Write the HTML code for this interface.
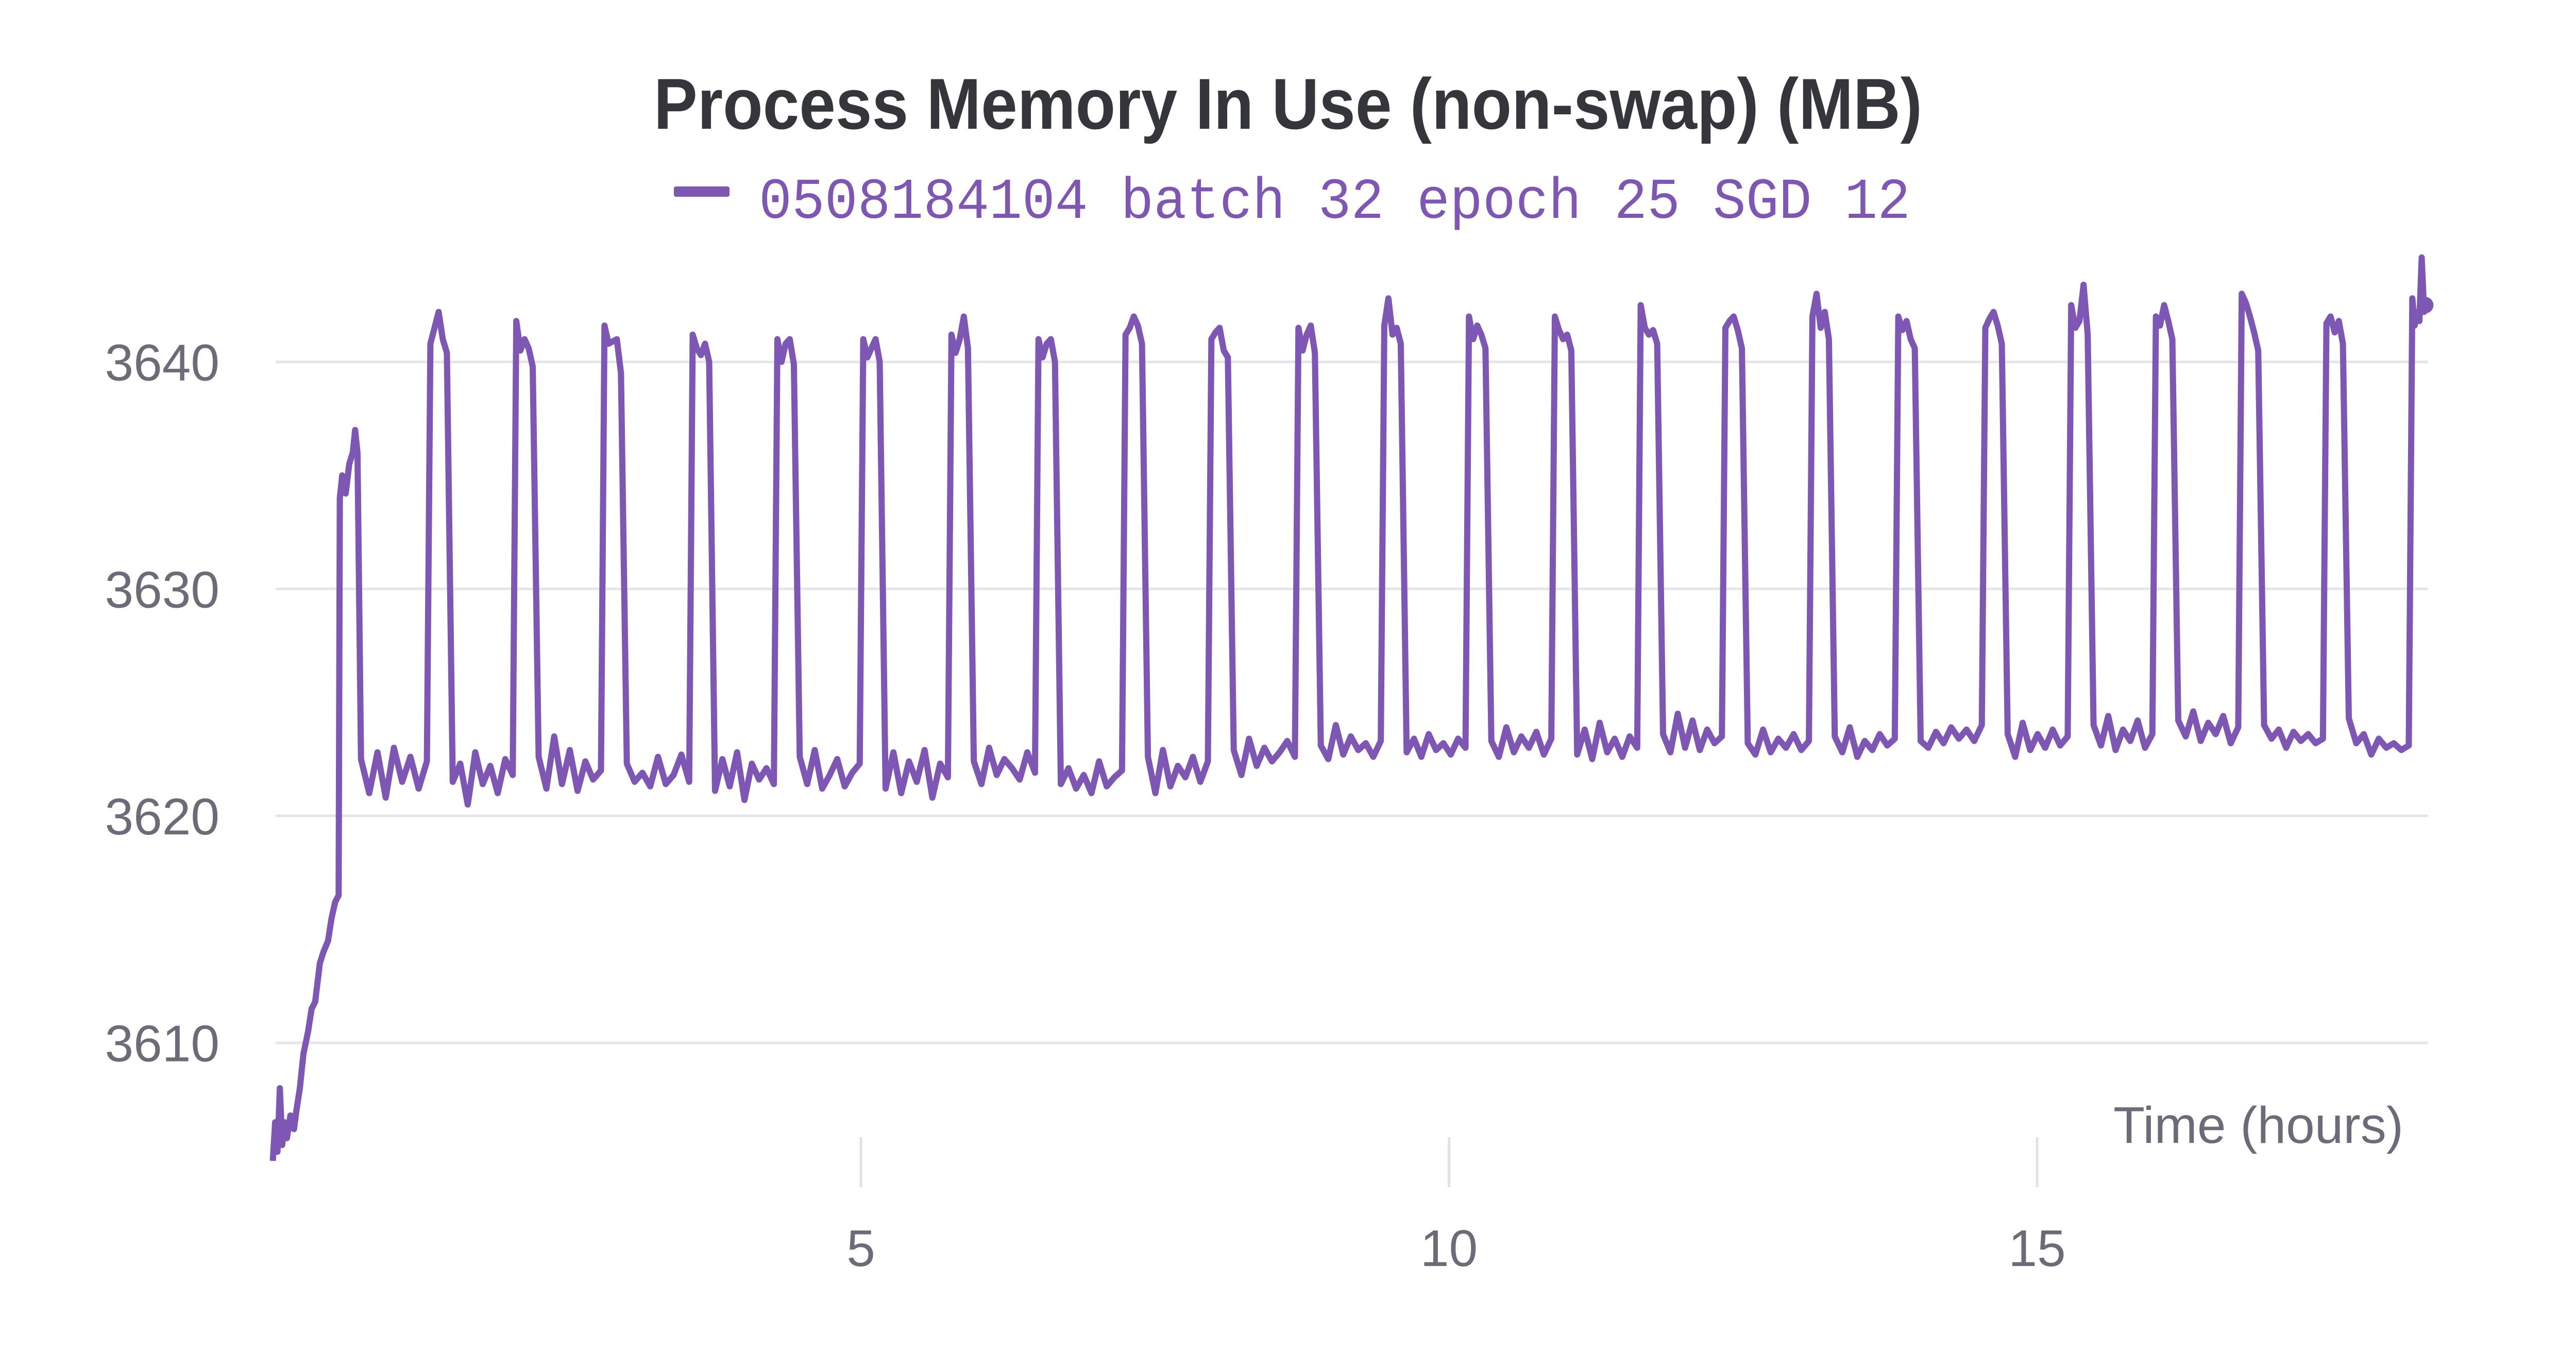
<!DOCTYPE html>
<html><head><meta charset="utf-8"><style>
html,body{margin:0;padding:0;background:#fff;}
svg{display:block;}
</style></head><body>
<svg id="chart" width="5056" height="2656" viewBox="0 0 5056 2656" xmlns="http://www.w3.org/2000/svg">
<text x="2500" y="250" text-anchor="middle" font-family="Liberation Sans, sans-serif" font-weight="bold" font-size="140" fill="#34363b" textLength="2462" lengthAdjust="spacingAndGlyphs">Process Memory In Use (non-swap) (MB)</text>
<g>
<rect x="1308" y="362" width="108" height="20" rx="4" fill="#7e57b5"/>
<text x="1473" y="423" font-family="Liberation Mono, monospace" font-size="112" fill="#7e57b5" textLength="2235" lengthAdjust="spacingAndGlyphs">0508184104 batch 32 epoch 25 SGD 12</text>
</g>
<g id="grid"></g><g id="yaxis"></g><g id="xaxis"></g><g id="series"></g>
<text x="4665" y="2219" text-anchor="end" font-family="Liberation Sans, sans-serif" font-size="100" fill="#6c6c78">Time (hours)</text>
</svg>
<script>
const yTicks=[3610,3620,3630,3640];
const xTicks=[5,10,15];
const initT=[0,0.02,0.04,0.06,0.08,0.1,0.12,0.15,0.18,0.2,0.23,0.26,0.3,0.33,0.36,0.4,0.43,0.47,0.5,0.53,0.56,0.57,0.59,0.62,0.65,0.68,0.7,0.72];
const initV=[3604.8,3606.5,3605.2,3608,3605.5,3606.5,3605.8,3606.8,3606.2,3607,3608,3609.5,3610.5,3611.5,3611.8,3613.5,3614,3614.5,3615.5,3616.2,3616.5,3634,3635,3634.2,3635.5,3636,3637,3636];
const rises=[1.32,2.05,2.80,3.55,4.27,5.00,5.75,6.49,7.23,7.96,8.70,9.43,10.15,10.88,11.61,12.33,13.07,13.80,14.54,15.27,15.99,16.72,17.44,18.17];
const lows=[
[3622.5,3621,3622.8,3620.8,3623,3621.5,3622.6,3621.2,3622.4],
[3621.5,3622.3,3620.5,3622.8,3621.4,3622.2,3621,3622.5,3621.8],
[3622.6,3621.2,3623.5,3621.4,3622.9,3621.1,3622.4,3621.6,3622],
[3622.3,3621.5,3621.9,3621.3,3622.6,3621.4,3621.8,3622.7,3621.5],
[3621.1,3622.5,3621.3,3622.8,3620.7,3622.3,3621.6,3622.1,3621.4],
[3622.6,3621.4,3622.9,3621.2,3621.8,3622.5,3621.3,3621.9,3622.3],
[3621.2,3622.8,3621,3622.4,3621.5,3622.9,3620.8,3622.3,3621.7],
[3622.4,3621.4,3623,3621.8,3622.5,3622.1,3621.6,3622.8,3621.9],
[3621.4,3622.1,3621.2,3621.8,3621,3622.4,3621.3,3621.7,3622],
[3622.6,3621,3622.9,3621.3,3622.2,3621.7,3622.6,3621.5,3622.4],
[3622.9,3621.8,3623.4,3622.2,3623,3622.4,3622.8,3623.3,3622.6],
[3623.1,3622.5,3624,3622.7,3623.5,3622.9,3623.2,3622.6,3623.3],
[3622.8,3623.4,3622.6,3623.6,3622.9,3623.2,3622.7,3623.4,3623],
[3623.3,3622.6,3623.9,3622.8,3623.5,3623,3623.7,3622.7,3623.4],
[3622.7,3623.8,3622.5,3624.1,3622.8,3623.4,3622.6,3623.5,3623],
[3623.6,3622.8,3624.5,3623,3624.2,3622.9,3623.8,3623.2,3623.5],
[3623.2,3622.7,3623.8,3622.8,3623.4,3623,3623.6,3622.9,3623.3],
[3623.5,3622.8,3623.9,3622.6,3623.3,3622.9,3623.6,3623.1,3623.4],
[3623.3,3623,3623.7,3623.2,3623.9,3623.4,3623.8,3623.3,3624],
[3623.6,3622.6,3624.1,3622.9,3623.6,3623,3623.8,3623.1,3623.5],
[3624,3623.1,3624.4,3622.9,3623.8,3623.3,3624.2,3623,3623.6],
[3624.2,3623.5,3624.6,3623.3,3624.1,3623.6,3624.4,3623.2,3623.9],
[3624,3623.4,3623.8,3623,3623.7,3623.3,3623.6,3623.2,3623.4],
[3624.3,3623.2,3623.6,3622.7,3623.4,3623,3623.2,3622.9,3623.1]
];
const highs=[
[3640.8,3641.5,3642.2,3641,3640.4],
[3641.8,3640.5,3641,3640.6,3639.8],
[3641.6,3640.8,3640.9,3641,3639.5],
[3641.2,3640.6,3640.3,3640.8,3640],
[3641,3640,3640.8,3641,3639.9],
[3641,3640.2,3640.6,3641,3640],
[3641.2,3640.4,3641,3642,3640.6],
[3641,3640.2,3640.8,3641,3640],
[3641.2,3641.5,3642,3641.6,3640.8],
[3641,3641.3,3641.5,3640.5,3640.2],
[3641.5,3640.5,3641.2,3641.6,3640.4],
[3641.6,3642.8,3641.2,3641.5,3640.8],
[3642,3641,3641.6,3641.2,3640.6],
[3642,3641.4,3641,3641.2,3640.5],
[3642.5,3641.5,3641.2,3641.4,3640.8],
[3641.5,3641.8,3642,3641.4,3640.6],
[3642,3643,3641.5,3642.2,3641],
[3642,3641.4,3641.8,3641,3640.6],
[3641.5,3641.9,3642.2,3641.6,3640.8],
[3642.5,3641.5,3641.8,3643.4,3641.2],
[3642,3641.6,3642.5,3641.8,3641],
[3643,3642.6,3642,3641.3,3640.5],
[3641.7,3642,3641.3,3641.8,3640.8]
];
const finalT=[18.19,18.21,18.23,18.25,18.27,18.29,18.30];
const finalV=[3642.8,3641.6,3642.2,3641.8,3644.6,3642.2,3642.5];

const NS='http://www.w3.org/2000/svg';
const X0=535,X1=4713;
function xs(t){return 529.5+228.3*t;}
function ys(v){return 1584-(v-3620)*44.07;}
function mk(tag,attrs,parent){const e=document.createElementNS(NS,tag);for(const k in attrs)e.setAttribute(k,attrs[k]);parent.appendChild(e);return e;}
const grid=document.getElementById('grid'),yax=document.getElementById('yaxis'),xax=document.getElementById('xaxis'),ser=document.getElementById('series');
yTicks.forEach(v=>{
 const l=mk('line',{x1:X0,x2:X1,y1:ys(v),y2:ys(v),stroke:'#e6e6ea','stroke-width':5},grid);
 
 
 const t=mk('text',{x:426,y:ys(v)+36,'text-anchor':'end','font-family':'Liberation Sans, sans-serif','font-size':100,fill:'#6c6c78'},yax);
 
 
 t.textContent=v;
});
xTicks.forEach(v=>{
 const l=mk('line',{x1:xs(v),x2:xs(v),y1:2208,y2:2305,stroke:'#e2e2e6','stroke-width':5},xax);
 
 
 const t=mk('text',{x:xs(v),y:2458,'text-anchor':'middle','font-family':'Liberation Sans, sans-serif','font-size':100,fill:'#6c6c78'},xax);
 
 
 t.textContent=v;
});
const T=[],V=[];
initT.forEach((t,i)=>{T.push(t);V.push(initV[i]);});
let prevFall=0.72;
rises.forEach((r,i)=>{
 const lw=lows[i]||lows[lows.length-1];
 const start=prevFall+0.03, end=r-0.01;
 lw.forEach((v,j)=>{T.push(start+(end-start)*j/(lw.length-1));V.push(v);});
 if(i<highs.length){
  const h=highs[i];
  h.forEach((v,j)=>{T.push(r+0.02+0.035*j);V.push(v);});
  prevFall=r+0.18;
 }
});
finalT.forEach((t,i)=>{T.push(t);V.push(finalV[i]);});
let d='';
T.forEach((t,i)=>{d+=(i?'L':'M')+xs(t).toFixed(1)+' '+ys(V[i]).toFixed(1);});
const p=mk('path',{d:d,fill:'none',stroke:'#7e57b5','stroke-width':12,'stroke-linejoin':'round'},ser);


const c=mk('circle',{cx:xs(T[T.length-1]),cy:ys(V[V.length-1]),r:16,fill:'#7e57b5'},ser);


</script>
</body></html>
